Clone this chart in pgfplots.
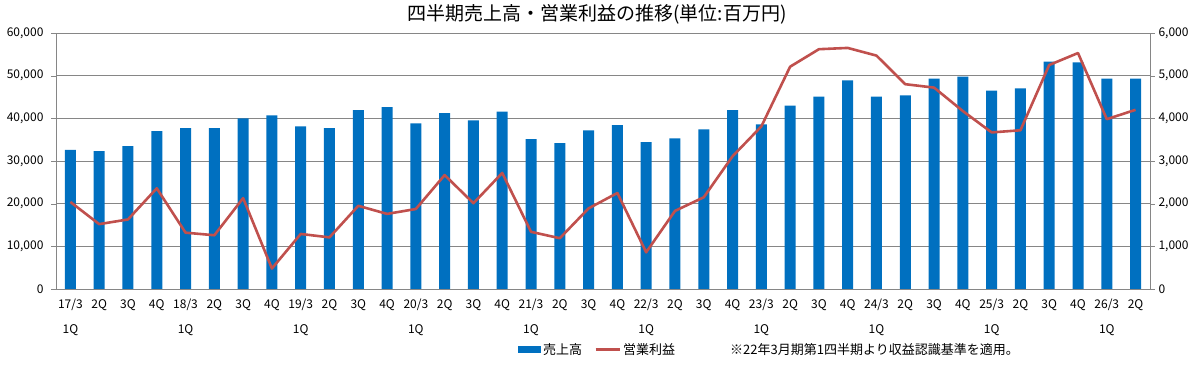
\documentclass[border=0pt]{standalone}
\usepackage{pgfplots}
\pgfplotsset{compat=1.18}
\usepackage{fontspec}
\setmainfont{Noto Sans CJK JP}
\definecolor{barblue}{HTML}{0070C0}
\definecolor{linered}{HTML}{C0504D}
\definecolor{gridgray}{HTML}{868686}
\pgfplotstableread{
x sales profit
0 32600 2040
1 32300 1520
2 33500 1630
3 37000 2360
4 37700 1320
5 37700 1260
6 40000 2130
7 40700 480
8 38100 1290
9 37700 1210
10 41900 1950
11 42600 1760
12 38800 1875
13 41200 2670
14 39500 2010
15 41600 2720
16 35100 1340
17 34200 1190
18 37200 1890
19 38400 2250
20 34400 860
21 35300 1830
22 37400 2150
23 41900 3110
24 38600 3810
25 43000 5210
26 45100 5620
27 48900 5650
28 45100 5470
29 45400 4800
30 49300 4720
31 49800 4170
32 46500 3670
33 47000 3720
34 53300 5250
35 53100 5530
36 49300 3980
37 49300 4200
}\datatable
\begin{document}
\begin{tikzpicture}[font=\fontsize{12pt}{14pt}\selectfont]
\pgfplotsset{
  base/.style={
    at={(56pt,77pt)}, anchor=south west,
    scale only axis, width=1094pt, height=256pt,
    xmin=-0.5, xmax=37.5,
    /pgf/number format/assume math mode=true,
    /pgf/number format/1000 sep={,},
    tick label style={font=\fontsize{12pt}{14pt}\selectfont},
    axis line style={gridgray},
    tick style={gridgray},
    tick align=outside,
  }
}
\begin{axis}[base,
  ymin=0, ymax=60000, ytick={0,10000,...,60000},
  scaled y ticks=false,
  ymajorgrids, grid style={gridgray, line width=0.8pt},
  ytick pos=left, xtick pos=bottom,
  major tick length=5pt,
  yticklabel style={xshift=-4pt},
  xtick={0,...,37},
  x tick style={draw=none},
  minor xtick={-0.5,0.5,...,37.5},
  minor x tick style={gridgray},
  minor tick length=5pt,
  xticklabel style={align=center, font=\fontsize{12pt}{25pt}\selectfont, inner sep=2pt, yshift=-3pt},
  xticklabels={{17/3\\1Q},2Q,3Q,4Q,{18/3\\1Q},2Q,3Q,4Q,{19/3\\1Q},2Q,3Q,4Q,{20/3\\1Q},2Q,3Q,4Q,{21/3\\1Q},2Q,3Q,4Q,{22/3\\1Q},2Q,3Q,4Q,{23/3\\1Q},2Q,3Q,4Q,{24/3\\1Q},2Q,3Q,4Q,{25/3\\1Q},2Q,3Q,4Q,{26/3\\1Q},2Q},
  legend style={at={(0.4223,-0.238)}, anchor=west, draw=none, inner sep=0pt,
    legend columns=2, font=\fontsize{13pt}{15pt}\selectfont,
    /tikz/every even column/.append style={column sep=10pt}},
  legend cell align=left,
]
\addplot[ybar, bar width=11pt, fill=barblue, draw=none,
  legend image code/.code={\fill[barblue] (0pt,-3.5pt) rectangle (23pt,3.5pt);}]
  table[x=x, y=sales] {\datatable};
\addlegendentry{売上高}
\addlegendimage{legend image code/.code={\draw[linered, line width=3pt] (0pt,0pt) -- (24pt,0pt);}}
\addlegendentry{営業利益}
\end{axis}
\begin{axis}[base,
  ymin=0, ymax=6000, ytick={0,1000,...,6000},
  scaled y ticks=false,
  axis y line*=right, axis x line=none,
  major tick length=5pt,
]
\addplot[linered, line width=2.6pt, mark=none, line join=round] table[x=x, y=profit] {\datatable};
\end{axis}
\node[font=\fontsize{19pt}{21pt}\selectfont] at (597pt,352pt) {四半期売上高・営業利益の推移(単位:百万円)};
\node[anchor=west, font=\fontsize{13pt}{15pt}\selectfont, inner sep=0pt] at (730pt,16pt) {※22年3月期第1四半期より収益認識基準を適用。};
\pgfresetboundingbox
\useasboundingbox (0pt,0pt) rectangle (1204pt,366pt);
\end{tikzpicture}
\end{document}
